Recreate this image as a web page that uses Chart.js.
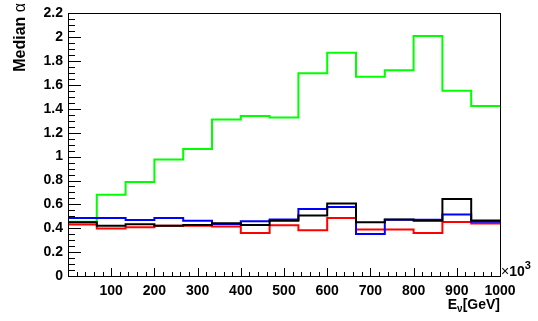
<!DOCTYPE html>
<html><head><meta charset="utf-8">
<script src="https://cdn.jsdelivr.net/npm/chart.js@4/dist/chart.umd.min.js"></script>
<style>html,body{margin:0;padding:0;background:#fff}#w{width:538px;height:321px}</style>
</head><body><div id="w"><canvas id="c"></canvas></div>
<script>
const binEdges = [0,66.67,133.33,200,266.67,333.33,400,466.67,533.33,600,666.67,733.33,800,866.67,933.33,1000];
const greenVals = [0.455,0.68,0.787,0.975,1.063,1.311,1.341,1.327,1.698,1.87,1.67,1.723,2.011,1.551,1.425];
const blueVals  = [0.485,0.485,0.469,0.485,0.463,0.436,0.458,0.474,0.561,0.578,0.352,0.472,0.472,0.515,0.455];
const blackVals = [0.45,0.422,0.433,0.422,0.428,0.441,0.428,0.463,0.507,0.608,0.45,0.474,0.463,0.646,0.466];
const redVals   = [0.431,0.398,0.409,0.422,0.422,0.414,0.36,0.425,0.384,0.485,0.39,0.39,0.36,0.452,0.439];
const xTickLabels = [100,200,300,400,500,600,700,800,900,1000];
const yTickLabels = [0,0.2,0.4,0.6,0.8,1,1.2,1.4,1.6,1.8,2,2.2];

function hist(vals){
  const pts = vals.map((v,i)=>({x:binEdges[i],y:v}));
  pts.push({x:binEdges[binEdges.length-1],y:vals[vals.length-1]});
  return pts;
}
function ds(vals,color,order){
  return {data:hist(vals),borderColor:color,borderWidth:2,stepped:'before',pointRadius:0,fill:false,order:order,tension:0};
}
const FONT = '"Liberation Sans", Arial, Helvetica, sans-serif';

const deco = {
  id:'deco',
  afterDatasetsDraw(chart){
    const ctx = chart.ctx, a = chart.chartArea, xs = chart.scales.x, ys = chart.scales.y;
    ctx.save();
    ctx.strokeStyle = '#000'; ctx.lineWidth = 1;
    ctx.strokeRect(Math.round(a.left)+0.5, Math.round(a.top)+0.5, Math.round(a.right-a.left), Math.round(a.bottom-a.top));
    ctx.beginPath();
    for (let k=0;k<=44;k++){
      const v = k*0.05, p = Math.round(ys.getPixelForValue(v))+0.5;
      const len = (k%4===0)?13:7;
      ctx.moveTo(a.left, p); ctx.lineTo(a.left+len, p);
    }
    for (let k=0;k<=50;k++){
      const v = k*20, p = Math.round(xs.getPixelForValue(v))+0.5;
      const len = (k%5===0)?8:4;
      ctx.moveTo(p, a.bottom); ctx.lineTo(p, a.bottom-len);
    }
    ctx.stroke();
    ctx.fillStyle = '#000';
    ctx.textBaseline = 'alphabetic'; ctx.textAlign = 'left';
    ctx.font = '14px '+FONT;
    ctx.fillText('\u00d7', a.right+1, a.bottom);
    let xx = a.right+1+ctx.measureText('\u00d7').width;
    ctx.font = 'bold 14px '+FONT;
    ctx.fillText('10', xx, a.bottom);
    xx += ctx.measureText('10').width;
    ctx.font = 'bold 11px '+FONT;
    ctx.fillText('3', xx, a.bottom-7);
    const t1='E', t2='[GeV]';
    ctx.font = 'bold 14px '+FONT; const w1 = ctx.measureText(t1).width, w3 = ctx.measureText(t2).width;
    ctx.font = 'bold 10px '+FONT; const w2 = ctx.measureText('\u03bd').width;
    let x0 = a.right - (w1+w2+w3);
    const by = 309;
    ctx.font = 'bold 14px '+FONT; ctx.fillText(t1, x0, by);
    ctx.font = 'bold 10px '+FONT; ctx.fillText('\u03bd', x0+w1, by+3);
    ctx.font = 'bold 14px '+FONT; ctx.fillText(t2, x0+w1+w2, by);
    ctx.translate(25, 3);
    ctx.rotate(-Math.PI/2);
    ctx.textAlign = 'right';
    ctx.font = '16px '+FONT;
    const wa = ctx.measureText('\u03b1').width;
    ctx.fillText('\u03b1', 0, 0);
    ctx.font = 'bold 16px '+FONT;
    ctx.fillText('Median ', -wa, 0);
    ctx.restore();
  }
};

new Chart(document.getElementById('c'), {
  type:'line',
  data:{datasets:[ds(blackVals,'#000000',0),ds(blueVals,'#0000ff',1),ds(redVals,'#ff0000',2),ds(greenVals,'#00ff00',3)]},
  options:{
    responsive:true, maintainAspectRatio:false, animation:false,
    layout:{padding:{left:0,top:7,right:38,bottom:0}},
    plugins:{legend:{display:false},tooltip:{enabled:false}},
    scales:{
      x:{type:'linear',min:0,max:1000,
        afterFit(s){s.height=45;},
        grid:{display:false,drawTicks:false},border:{display:false},
        afterBuildTicks(s){s.ticks = xTickLabels.map(v=>({value:v}));},
        ticks:{padding:7,color:'#000',font:{family:FONT,size:14,weight:'bold'},maxRotation:0,autoSkip:false,callback:v=>String(v)}},
      y:{type:'linear',min:0,max:2.2,
        afterFit(s){s.width=68;},
        grid:{display:false,drawTicks:false},border:{display:false},
        afterBuildTicks(s){s.ticks = yTickLabels.map(v=>({value:v}));},
        ticks:{padding:5,color:'#000',font:{family:FONT,size:14,weight:'bold'},autoSkip:false,callback:v=>String(+(+v).toFixed(1))}}
    }
  },
  plugins:[deco]
});
</script></body></html>
